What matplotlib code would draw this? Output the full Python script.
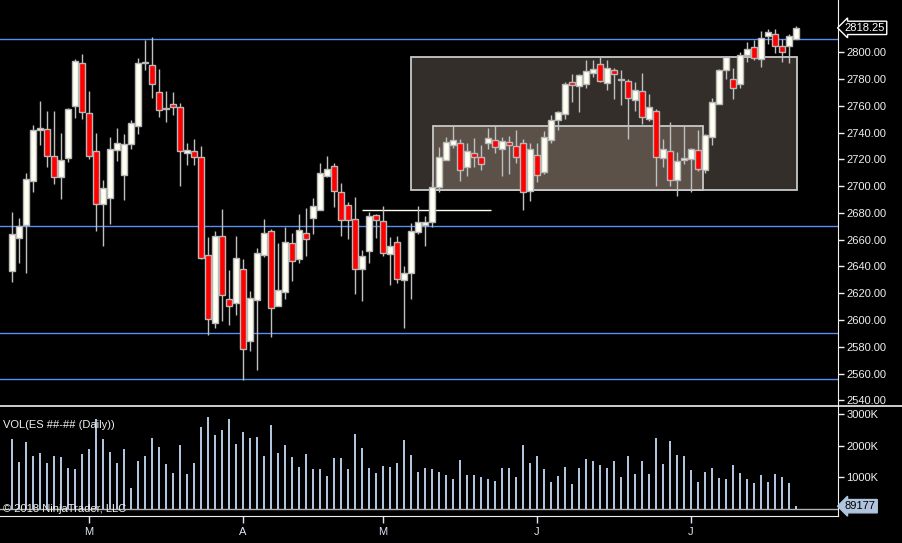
import matplotlib.pyplot as plt
from matplotlib.patches import Rectangle
from matplotlib.lines import Line2D
import numpy as np

plt.rcParams['font.family'] = ['Liberation Sans', 'DejaVu Sans']

# daily OHLC, ES futures
opens = [2636.5, 2661.25, 2671.0, 2703.75, 2742.0, 2743.0, 2722.75, 2706.75, 2721.0, 2760.0,
         2792.25, 2755.0, 2726.5, 2687.0, 2691.0, 2727.0, 2708.25, 2731.5, 2745.0, 2792.0,
         2790.75, 2770.5, 2758.0, 2761.0, 2759.5, 2725.0, 2726.5, 2722.0, 2648.75, 2597.5,
         2663.0, 2615.75, 2612.5, 2638.25, 2584.25, 2614.75, 2648.5, 2666.75, 2610.5, 2620.75,
         2657.75, 2645.5, 2665.25, 2676.0, 2682.0, 2707.5, 2715.25, 2695.75, 2686.0, 2675.5,
         2638.0, 2651.75, 2678.5, 2674.25, 2649.25, 2658.5, 2629.75, 2635.0, 2665.75, 2671.25,
         2673.25, 2699.5, 2719.5, 2731.0, 2732.0, 2714.25, 2725.0, 2722.0, 2732.5, 2734.75,
         2728.0, 2733.25, 2730.25, 2732.5, 2696.5, 2723.5, 2710.5, 2734.75, 2749.5, 2754.0,
         2777.5, 2774.75, 2776.25, 2784.5, 2791.5, 2777.0, 2787.0, 2779.5, 2778.25, 2764.5,
         2771.25, 2750.25, 2756.5, 2721.0, 2726.5, 2704.5, 2719.5, 2720.25, 2727.25, 2712.0,
         2736.75, 2761.5, 2786.75, 2780.25, 2776.25, 2798.0, 2804.25, 2795.0, 2812.25, 2814.0,
         2805.0, 2805.0, 2810.25]
highs = [2680.5, 2676.0, 2710.0, 2745.5, 2763.5, 2756.5, 2756.5, 2739.5, 2758.5, 2794.75,
         2798.5, 2770.75, 2739.5, 2704.25, 2736.5, 2743.25, 2738.75, 2749.25, 2795.5, 2809.0,
         2811.25, 2787.25, 2770.75, 2770.0, 2762.0, 2732.5, 2735.0, 2729.75, 2662.25, 2666.25,
         2683.0, 2637.0, 2663.0, 2645.25, 2622.0, 2653.5, 2675.5, 2667.75, 2657.25, 2669.75,
         2664.75, 2679.0, 2684.0, 2691.0, 2717.5, 2722.25, 2717.0, 2702.0, 2688.5, 2692.25,
         2652.0, 2681.0, 2679.5, 2685.5, 2661.75, 2662.5, 2640.0, 2672.75, 2685.0, 2678.0,
         2703.5, 2729.0, 2736.5, 2744.75, 2735.25, 2732.0, 2735.75, 2730.5, 2743.25, 2744.75,
         2736.5, 2737.25, 2741.75, 2735.5, 2732.5, 2732.0, 2741.0, 2753.0, 2756.5, 2778.0,
         2783.5, 2783.5, 2794.0, 2794.0, 2796.25, 2794.0, 2788.5, 2786.5, 2780.25, 2778.0,
         2784.75, 2768.5, 2758.0, 2735.0, 2747.75, 2725.75, 2744.75, 2728.5, 2741.75, 2739.25,
         2766.0, 2787.75, 2797.5, 2788.25, 2800.5, 2807.5, 2809.0, 2815.75, 2817.75, 2817.75,
         2810.25, 2813.5, 2819.5]
lows = [2628.25, 2642.5, 2635.0, 2696.0, 2730.5, 2714.25, 2701.5, 2690.25, 2718.0, 2751.0,
        2750.25, 2720.25, 2666.5, 2655.25, 2671.75, 2718.75, 2689.5, 2727.75, 2739.0, 2786.75,
        2766.0, 2751.75, 2748.0, 2753.5, 2700.0, 2715.5, 2715.5, 2645.25, 2588.75, 2594.0,
        2599.0, 2596.0, 2603.5, 2555.25, 2576.75, 2562.5, 2646.75, 2587.25, 2610.5, 2615.5,
        2629.0, 2642.5, 2647.75, 2664.25, 2682.0, 2706.75, 2684.5, 2662.5, 2660.25, 2619.25,
        2614.0, 2642.5, 2661.25, 2647.75, 2626.0, 2627.5, 2594.0, 2615.5, 2664.25, 2655.25,
        2669.75, 2695.5, 2719.5, 2728.75, 2703.75, 2707.5, 2714.25, 2711.75, 2727.75, 2724.75,
        2707.5, 2709.0, 2717.25, 2682.0, 2689.0, 2703.25, 2708.75, 2732.5, 2742.0, 2750.5,
        2762.5, 2755.5, 2773.25, 2781.5, 2777.5, 2771.5, 2765.0, 2760.5, 2735.0, 2756.5,
        2746.5, 2748.5, 2700.0, 2714.25, 2700.0, 2692.5, 2716.25, 2696.0, 2711.25, 2709.75,
        2730.75, 2761.5, 2780.0, 2765.0, 2773.25, 2792.75, 2794.25, 2789.0, 2806.25, 2799.5,
        2792.75, 2792.0, 2810.25]
closes = [2664.0, 2670.5, 2705.5, 2742.25, 2743.75, 2722.5, 2706.75, 2719.75, 2757.5, 2793.25,
          2755.5, 2722.5, 2687.0, 2698.75, 2727.5, 2732.5, 2731.75, 2747.5, 2792.25, 2792.5,
          2776.5, 2757.0, 2758.5, 2759.5, 2726.25, 2727.25, 2722.0, 2646.5, 2600.5, 2663.0,
          2618.5, 2610.5, 2646.5, 2578.5, 2616.5, 2650.25, 2665.25, 2609.0, 2622.5, 2658.5,
          2644.25, 2667.5, 2660.5, 2685.5, 2710.0, 2713.0, 2696.5, 2675.0, 2674.75, 2638.25,
          2648.0, 2678.0, 2674.75, 2650.25, 2655.5, 2630.5, 2635.25, 2666.75, 2673.5, 2673.5,
          2699.5, 2722.0, 2733.25, 2734.75, 2712.0, 2726.5, 2722.0, 2716.75, 2736.25, 2729.5,
          2734.0, 2731.0, 2722.0, 2695.75, 2728.0, 2708.5, 2737.0, 2749.25, 2755.25, 2776.0,
          2775.75, 2782.75, 2786.25, 2787.75, 2778.5, 2788.5, 2783.75, 2779.75, 2766.0, 2772.0,
          2751.75, 2759.5, 2721.75, 2728.0, 2704.5, 2719.0, 2721.25, 2727.5, 2712.75, 2738.5,
          2762.5, 2787.0, 2796.75, 2773.25, 2798.25, 2802.75, 2795.75, 2811.0, 2815.5, 2805.0,
          2800.25, 2812.0, 2818.25]
# volume in thousands of contracts
volumes = [2210, 1484, 2116, 1674, 1768, 1453, 1674, 1642, 1295, 1263,
           1737, 1895, 2842, 2210, 1800, 1453, 1895, 663, 1516, 1674,
           2242, 1958, 1421, 1137, 2021, 1105, 1453, 2589, 2905, 2337,
           2495, 2842, 2053, 2432, 2242, 2274, 1674, 2653, 1768, 2021,
           1642, 1326, 1737, 1263, 1263, 1042, 1611, 1611, 1263, 2368,
           1926, 1295, 1137, 1358, 1326, 1453, 2179, 1705, 1168, 1295,
           1263, 1168, 1074, 947, 1547, 1074, 1074, 1011, 947, 884,
           1295, 1295, 1011, 2021, 1453, 1674, 1263, 853, 1042, 1326,
           789, 1295, 1579, 1516, 1389, 1295, 1516, 1011, 1674, 1105,
           1516, 1105, 2242, 1421, 2147, 1705, 1674, 1232, 853, 1168,
           1295, 979, 947, 1389, 1137, 947, 821, 1074, 853, 1105,
           1011, 821, 89.177]

month_pos = [11, 33, 53, 75, 97]
month_labels = ['M', 'A', 'M', 'J', 'J']
level_lines = [2810.25, 2670.0, 2590.0, 2556.25]
price_ticks = np.arange(2540, 2801, 20)
vol_ticks = [1000, 2000, 3000]

W, H = 902, 543
fig = plt.figure(figsize=(W / 100, H / 100), dpi=100, facecolor='black')
axp = fig.add_axes([0, 1 - 406 / H, 838 / W, 406 / H], facecolor='black')
axv = fig.add_axes([0, 1 - 516 / H, 838 / W, 110 / H], facecolor='black')

n = len(closes)
x = np.arange(n)
fg = '#f0f0f0'

# zones
axp.add_patch(Rectangle((57.04, 2697.3), 112.19 - 57.04, 2796.8 - 2697.3,
                        facecolor='#332e2a', edgecolor='#c8c8c8', lw=1.3, zorder=1))
axp.add_patch(Rectangle((60.19, 2697.3), 98.67 - 60.19, 2745.2 - 2697.3,
                        facecolor='#5b5149', edgecolor='#c8c8c8', lw=1.3, zorder=1.5))
axp.hlines(2682.4, 50, 68.4, color='#fffff0', lw=1, zorder=2)
for lv in level_lines:
    axp.axhline(lv, color='#5b8def', lw=1, zorder=2)

# candles
axp.vlines(x, lows, highs, color='#c0c0c0', lw=1, zorder=3)
o = np.array(opens); c = np.array(closes)
up = c >= o
body = np.maximum(np.abs(c - o), 0.7)
bottom = np.minimum(o, c)
axp.bar(x[up], body[up], bottom=bottom[up], width=0.72, color='#fffff2',
        edgecolor='#b8b8b8', lw=1, zorder=4)
axp.bar(x[~up], body[~up], bottom=bottom[~up], width=0.72, color='#ff0000',
        edgecolor='#b8b8b8', lw=1, zorder=4)

xl = (-12 / 7, (838 - 12) / 7)
axp.set_xlim(xl)
axp.set_ylim(2535.75, 2839.07)
axp.yaxis.tick_right()
axp.set_yticks(price_ticks)
axp.set_yticklabels([f'{v:.2f}' for v in price_ticks])
axp.tick_params(axis='y', colors=fg, labelsize=8, length=4, width=1, pad=2)
axp.set_xticks([])
for s in ['top', 'left', 'bottom']:
    axp.spines[s].set_visible(False)
axp.spines['right'].set_color(fg)
axp.text(1.008, closes[-1], f'{closes[-1]:.2f}', transform=axp.get_yaxis_transform(),
         color='white', fontsize=8, va='center', ha='left',
         bbox=dict(boxstyle='larrow,pad=0.15', fc='black', ec='white', lw=1))

# volume
axv.bar(x, volumes, width=0.3, color='#b0c4de', zorder=3)
axv.axhline(0, color='#b0b0b0', lw=1, zorder=2)
axv.set_xlim(xl)
axv.set_ylim(-221, 3252)
axv.yaxis.tick_right()
axv.set_yticks(vol_ticks)
axv.set_yticklabels([f'{v}K' for v in vol_ticks])
axv.tick_params(axis='y', colors=fg, labelsize=8, length=4, width=1, pad=2)
axv.set_xticks(month_pos)
axv.set_xticklabels(month_labels)
axv.tick_params(axis='x', colors='#dde6f5', labelsize=8, length=5, width=1, pad=3)
for s in ['top', 'left']:
    axv.spines[s].set_visible(False)
axv.spines['right'].set_color(fg)
axv.spines['bottom'].set_color(fg)
axv.text(1.008, volumes[-1], f'{volumes[-1] * 1000:.0f}', transform=axv.get_yaxis_transform(),
         color='black', fontsize=8, va='center', ha='left',
         bbox=dict(boxstyle='larrow,pad=0.15', fc='#b0c4de', ec='#b0c4de', lw=1))
axv.text(0.004, 0.83, 'VOL(ES ##-## (Daily))', transform=axv.transAxes,
         color=fg, fontsize=8, va='center')
axv.text(0.004, 0.06, '\u00a9 2018 NinjaTrader, LLC', transform=axv.transAxes,
         color=fg, fontsize=8, va='center', zorder=5)

fig.add_artist(Line2D([0, 1], [1 - 406 / H] * 2, color=fg, lw=1.2, transform=fig.transFigure))

fig.savefig('out.png', dpi=100, facecolor='black')
